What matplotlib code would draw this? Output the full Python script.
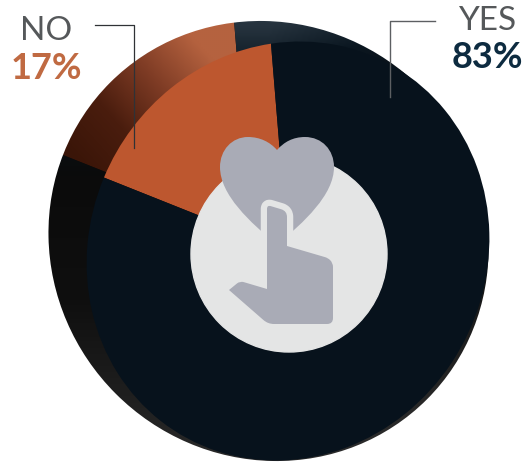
import numpy as np
import matplotlib
matplotlib.use('Agg')
import matplotlib.pyplot as plt
from matplotlib.colors import LinearSegmentedColormap
from matplotlib.patches import Circle, PathPatch
from matplotlib.path import Path
from matplotlib.transforms import Affine2D

W, H = 532, 462

labels = ['NO', 'YES']
values = [17, 83]
value_labels = ['17%', '83%']

start_angle = 96.6
front_centre = (288, H - 251)
back_centre = (251, H - 230)

FRONT_COLORS = ['#bd572f', '#07121c']
DISC = '#e4e5e5'
ICON = '#a9abb6'


def tilted(centre, short_axis, long_axis, angle=28.3):
    # unit circle to an ellipse whose long axis leans to the upper right
    return (Affine2D().rotate_deg(angle).scale(short_axis, long_axis)
            .rotate_deg(-angle).translate(centre[0], centre[1]))


def gradient(ax, clip, t, stops):
    cmap = LinearSegmentedColormap.from_list('side', stops)
    im = ax.imshow(t, extent=(0, W, 0, H), origin='lower', cmap=cmap, vmin=0, vmax=1,
                   interpolation='bilinear', aspect='auto', zorder=1)
    im.set_clip_path(clip)


def rounded(points):
    # each point is (x, y, corner) in pixels from the top left, corner>0 rounds it
    verts, codes = [], []
    n = len(points)
    for i, (x, y, r) in enumerate(points):
        p = np.array([x, H - y], float)
        if r == 0:
            verts.append(p)
            codes.append(Path.MOVETO if i == 0 else Path.LINETO)
            continue
        prev = np.array([points[i - 1][0], H - points[i - 1][1]], float)
        nxt = np.array([points[(i + 1) % n][0], H - points[(i + 1) % n][1]], float)
        a = p + (prev - p) / np.linalg.norm(prev - p) * r
        b = p + (nxt - p) / np.linalg.norm(nxt - p) * r
        verts += [a, p, b]
        codes += [Path.MOVETO if i == 0 else Path.LINETO, Path.CURVE3, Path.CURVE3]
    verts.append(verts[0])
    codes.append(Path.CLOSEPOLY)
    return Path(verts, codes)


fig = plt.figure(figsize=(W / 100, H / 100), dpi=100)
ax = fig.add_axes([0, 0, 1, 1])

# side wall: same slices pushed up and left, filled with gradients
back, _ = ax.pie(values, startangle=start_angle, radius=1, colors=['none', 'none'], frame=True)
ax.set_aspect('auto')
ax.set_xlim(0, W)
ax.set_ylim(0, H)
for w in back:
    w.set_transform(tilted(back_centre, 260, 280) + ax.transData)

# dark base so no white seam shows between the two gradient slices
ax.add_patch(Circle((268.5, H - 241), 228, color='#120b08', zorder=0.5))

xx, yy = np.meshgrid(np.linspace(0, W, 266), np.linspace(0, H, 231))
t_no = np.clip(((xx - 75) * 0.75 + (yy - (H - 160)) * 0.66) / 170, 0, 1)
gradient(ax, back[0], t_no, ['#3a1508', '#4a1d0e', '#7f3c25', '#b5623f'])

t_yes = np.clip(yy / H - 0.0006 * np.maximum(xx - 270, 0), 0, 1)
gradient(ax, back[1], t_yes, [(0, '#2a2a2a'), (0.1, '#222222'), (0.35, '#0f0f0f'),
                              (0.62, '#0b0b0b'), (0.85, '#0a1620'), (0.95, '#27343f'),
                              (1, '#27343f')])

# white mask trims the wall to the outer silhouette
rim = Path.unit_circle().transformed(
    Affine2D().rotate_deg(45).scale(224, 216).rotate_deg(-45).translate(268.5, H - 241))
page = Path([(0, 0), (0, H), (W, H), (W, 0), (0, 0)],
            [Path.MOVETO, Path.LINETO, Path.LINETO, Path.LINETO, Path.CLOSEPOLY])
ax.add_patch(PathPatch(Path.make_compound_path(page, rim), facecolor='white', edgecolor='none', zorder=1.5))

front, _ = ax.pie(values, startangle=start_angle, radius=1, colors=FRONT_COLORS, frame=True,
                  wedgeprops={'zorder': 2})
for w in front:
    w.set_transform(tilted(front_centre, 198, 212.7) + ax.transData)

ax.add_patch(Circle((289, H - 254), 98, color=DISC, zorder=3))

# heart and pointing hand in the middle
heart_pts = [(277, 150),
             (270, 142), (260, 137), (248, 137),
             (232, 137), (220, 150), (220, 167),
             (220, 195), (250, 222), (277, 245),
             (304, 222), (334, 195), (334, 167),
             (334, 150), (322, 137), (305, 137),
             (293, 137), (284, 142), (277, 150)]
heart = Path([(x, H - y) for x, y in heart_pts], [Path.MOVETO] + [Path.CURVE4] * 18)
ax.add_patch(PathPatch(heart, facecolor=ICON, edgecolor='none', zorder=4))

hand = rounded([(267, 205, 4), (287, 211, 6), (287, 246, 0), (328, 258, 3), (333, 263, 4),
                (333, 324, 6), (268, 324, 6), (229, 290, 0), (240, 281, 4), (267, 289, 0)])
ax.add_patch(PathPatch(hand, facecolor=DISC, edgecolor=DISC, lw=9, zorder=5, joinstyle='round'))
ax.add_patch(PathPatch(hand, facecolor=ICON, edgecolor='none', zorder=6))

# leader lines
ax.plot([95, 134, 134], [H - 25, H - 25, H - 148], color='#2f3236', lw=0.9, zorder=7)
ax.plot([435, 389.5, 389.5], [H - 20.5, H - 20.5, H - 97], color='#5c5f62', lw=1.0, zorder=7)

ax.text(46, H - 40, labels[0], family='Lato', fontsize=24, color='#55585a', ha='center', va='baseline')
ax.text(46, H - 79, value_labels[0], family='Lato', fontsize=26, weight='bold', color='#c06a42',
        ha='center', va='baseline')
ax.text(487, H - 30, labels[1], family='Lato', fontsize=24, color='#55585a', ha='center', va='baseline')
ax.text(487.5, H - 68, value_labels[1], family='Lato', fontsize=26, weight='bold', color='#0d2b40',
        ha='center', va='baseline')

ax.set_xlim(0, W)
ax.set_ylim(0, H)
ax.axis('off')
fig.savefig('out.png', dpi=100)
